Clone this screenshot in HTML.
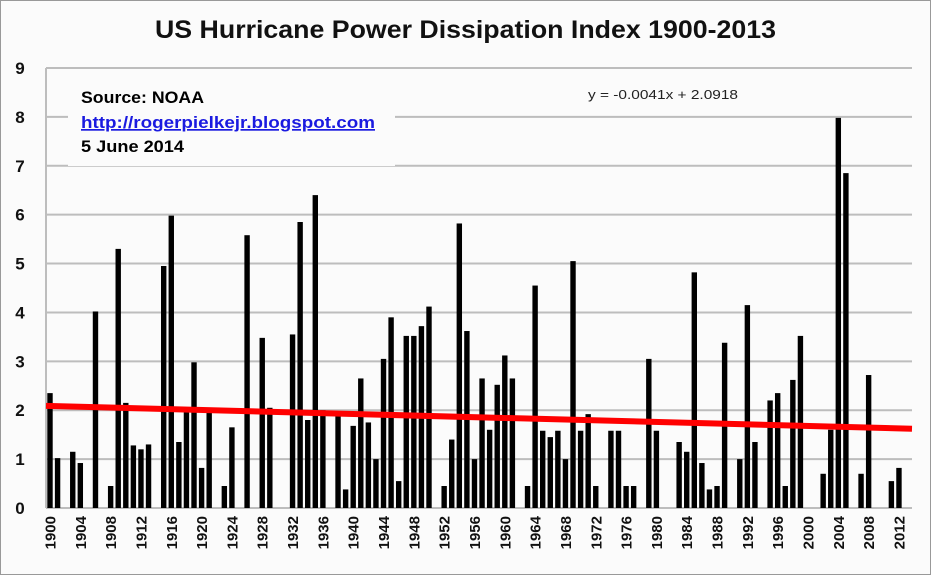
<!DOCTYPE html>
<html><head><meta charset="utf-8"><style>
body{margin:0;background:#fff}
svg{display:block;font-family:"Liberation Sans",sans-serif}
</style></head><body>
<svg id="chart" width="931" height="575" viewBox="0 0 931 575">
<rect x="0.5" y="0.5" width="930" height="574" fill="#fbfbfb" stroke="#999"/>
<text x="155" y="38" textLength="621" lengthAdjust="spacingAndGlyphs" font-size="25" font-weight="bold" fill="#111">US Hurricane Power Dissipation Index 1900-2013</text>
<g id="grid"></g>
<g id="bars"></g>
<g id="trend"></g>
<g id="yticks"></g>
<g id="xticks"></g>
<rect x="68" y="84" width="327" height="82" fill="#fbfbfb"/>
<text x="81" y="103" textLength="123" lengthAdjust="spacingAndGlyphs" font-size="17" font-weight="bold" fill="#000">Source: NOAA</text>
<text x="81" y="128" textLength="294" lengthAdjust="spacingAndGlyphs" font-size="17" font-weight="bold" fill="#1a1ae0" text-decoration="underline">http://rogerpielkejr.blogspot.com</text>
<text x="81" y="152" textLength="103" lengthAdjust="spacingAndGlyphs" font-size="17" font-weight="bold" fill="#000">5 June 2014</text>
<text x="588" y="99" textLength="150" lengthAdjust="spacingAndGlyphs" font-size="13" fill="#222">y = -0.0041x + 2.0918</text>
</svg>
<script>
const years=[];for(let y=1900;y<=2013;y++)years.push(y);
const values=[2.35,1.02,0,1.15,0.92,0,4.02,0,0.45,5.3,2.15,1.28,1.2,1.3,0,4.95,5.98,1.35,2.0,2.98,0.82,1.95,0,0.45,1.65,0,5.58,0,3.48,2.05,0,0,3.55,5.85,1.8,6.4,2.0,0,1.9,0.38,1.68,2.65,1.75,1.0,3.05,3.9,0.55,3.52,3.52,3.72,4.12,0,0.45,1.4,5.82,3.62,1.0,2.65,1.6,2.52,3.12,2.65,0,0.45,4.55,1.58,1.45,1.58,1.0,5.05,1.58,1.92,0.45,0,1.58,1.58,0.45,0.45,0,3.05,1.58,0,0,1.35,1.15,4.82,0.92,0.38,0.45,3.38,0,1.0,4.15,1.35,0,2.2,2.35,0.45,2.62,3.52,0,0,0.7,1.6,7.98,6.85,0,0.7,2.72,0,0,0.55,0.82,0];
const yTicks=[0,1,2,3,4,5,6,7,8,9];
const xTickLabels=[1900,1904,1908,1912,1916,1920,1924,1928,1932,1936,1940,1944,1948,1952,1956,1960,1964,1968,1972,1976,1980,1984,1988,1992,1996,2000,2004,2008,2012];
const trendSlope=-0.0041, trendIntercept=2.0918;
const NS="http://www.w3.org/2000/svg";
const X0=46,X1=912,Y0=508,Y9=68;
const ys=v=>Y0-(v/9)*(Y0-Y9);
const step=7.58;
const xs=yr=>50+(yr-1900)*step;
function mk(t,a,p){const e=document.createElementNS(NS,t);for(const k in a)e.setAttribute(k,a[k]);p.appendChild(e);return e;}
const grid=document.getElementById('grid');
yTicks.forEach(t=>{const l=mk('line',{x1:X0,x2:X1,y1:ys(t),y2:ys(t),stroke:'#bdbdbd','stroke-width':2},grid);

});
const ax=mk('line',{x1:X0,x2:X0,y1:Y9,y2:Y0,stroke:'#bdbdbd','stroke-width':2},grid);


const bars=document.getElementById('bars');
values.forEach((v,i)=>{if(v<=0)return;const r=mk('rect',{x:xs(years[i])-2.7,y:ys(v),width:5.4,height:Y0-ys(v),fill:'#000'},bars);

});
const tr=document.getElementById('trend');
const idx=x=>(x-50)/step+1;
const tl=mk('line',{x1:X0,y1:ys(trendIntercept+trendSlope*idx(X0)),x2:X1,y2:ys(trendIntercept+trendSlope*idx(X1)),stroke:'#ff0000','stroke-width':6},tr);


const yt=document.getElementById('yticks');
yTicks.forEach(t=>{const e=mk('text',{x:20,y:ys(t)+6,'text-anchor':'middle','font-size':17,'font-weight':'bold',fill:'#111'},yt);e.textContent=t;

});
const xt=document.getElementById('xticks');
xTickLabels.forEach(t=>{const x=xs(t)+5.5,y=516;const e=mk('text',{x:x,y:y,'text-anchor':'end','font-size':15,'font-weight':'bold',fill:'#111',transform:`rotate(-90 ${x} ${y})`},xt);e.textContent=t;

});
</script>
</body></html>
